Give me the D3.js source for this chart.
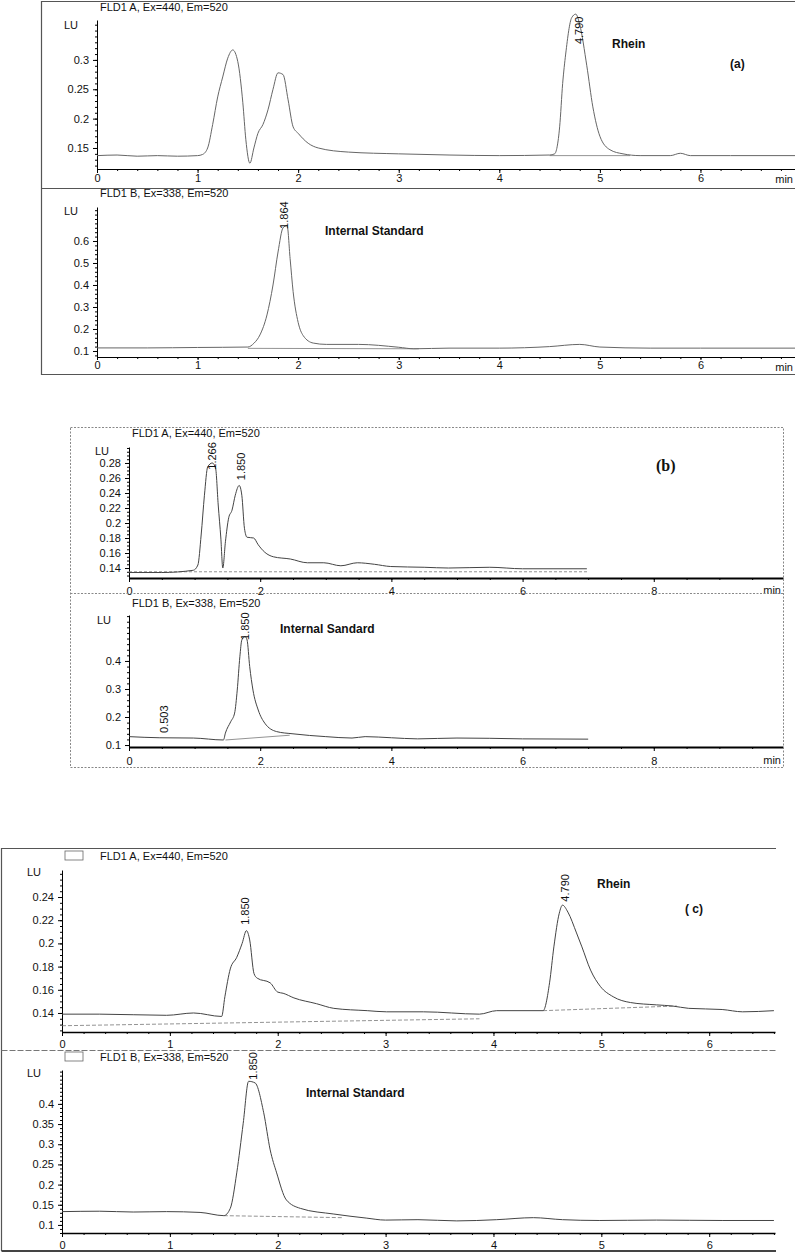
<!DOCTYPE html>
<html lang="en">
<head>
<meta charset="UTF-8">
<title>Chromatograms</title>
<script src="https://cdn.jsdelivr.net/npm/d3@7"></script>
<style>
  body { margin: 0; background: #fff; }
  svg text { font-family: "Liberation Sans", Arial, sans-serif; fill: #111; }
</style>
</head>
<body>
<script>
// ---- traces: [time (min), signal (LU)] ----
const traceA1 = [[0,0.137],[0.2,0.138],[0.4,0.136],[0.6,0.137],[0.8,0.136],[1.0,0.137],[1.05,0.139],[1.1,0.15],[1.15,0.19],[1.2,0.237],[1.25,0.271],[1.3,0.303],[1.35,0.317],[1.4,0.297],[1.45,0.227],[1.48,0.164],[1.52,0.124],[1.56,0.15],[1.6,0.175],[1.65,0.19],[1.7,0.215],[1.75,0.25],[1.8,0.278],[1.85,0.275],[1.9,0.232],[1.95,0.186],[2.0,0.175],[2.1,0.158],[2.2,0.15],[2.5,0.143],[3.0,0.14],[3.5,0.138],[4.0,0.137],[4.5,0.138],[4.55,0.14],[4.6,0.186],[4.63,0.26],[4.66,0.31],[4.72,0.372],[4.76,0.378],[4.8,0.36],[4.87,0.29],[4.93,0.22],[5.0,0.17],[5.1,0.147],[5.23,0.14],[5.4,0.137],[5.7,0.137],[5.8,0.141],[5.9,0.137],[6.3,0.137],[6.94,0.137]];
const traceA2 = [[0,0.114],[0.5,0.114],[1.0,0.116],[1.5,0.118],[1.56,0.135],[1.62,0.173],[1.69,0.264],[1.75,0.4],[1.8,0.55],[1.85,0.66],[1.89,0.67],[1.92,0.52],[1.95,0.37],[2.0,0.23],[2.05,0.17],[2.15,0.136],[2.28,0.13],[2.6,0.13],[3.0,0.117],[3.15,0.11],[3.5,0.113],[4.0,0.113],[4.5,0.12],[4.8,0.13],[5.0,0.118],[5.5,0.113],[6.0,0.113],[6.94,0.113]];
const traceB1 = [[0,0.134],[0.5,0.134],[0.98,0.137],[1.05,0.144],[1.1,0.184],[1.15,0.237],[1.2,0.275],[1.27,0.28],[1.32,0.273],[1.36,0.224],[1.4,0.18],[1.43,0.14],[1.47,0.175],[1.52,0.207],[1.57,0.217],[1.62,0.237],[1.68,0.25],[1.72,0.237],[1.76,0.193],[1.8,0.181],[1.9,0.18],[1.97,0.171],[2.07,0.161],[2.2,0.155],[2.46,0.152],[2.72,0.147],[2.97,0.147],[3.23,0.143],[3.48,0.147],[3.74,0.145],[3.99,0.142],[4.5,0.141],[4.87,0.14],[5.5,0.141],[6.0,0.139],[6.98,0.139]];
const traceB2 = [[0,0.13],[0.46,0.126],[0.98,0.125],[1.44,0.118],[1.47,0.143],[1.55,0.183],[1.61,0.214],[1.65,0.296],[1.69,0.415],[1.72,0.475],[1.77,0.487],[1.8,0.475],[1.84,0.38],[1.89,0.296],[1.97,0.225],[2.07,0.178],[2.25,0.148],[2.5,0.14],[3.0,0.13],[3.4,0.125],[3.6,0.13],[4.0,0.126],[4.4,0.122],[5.0,0.125],[5.5,0.124],[6.0,0.122],[7.0,0.121]];
const traceC1 = [[0,0.139],[0.35,0.139],[0.97,0.138],[1.22,0.14],[1.48,0.137],[1.51,0.154],[1.56,0.178],[1.62,0.188],[1.67,0.2],[1.71,0.211],[1.74,0.203],[1.78,0.174],[1.81,0.17],[1.93,0.166],[2.0,0.158],[2.05,0.157],[2.15,0.153],[2.36,0.148],[2.52,0.144],[2.83,0.142],[3.01,0.141],[3.35,0.141],[3.87,0.139],[4.03,0.142],[4.46,0.142],[4.52,0.166],[4.56,0.197],[4.61,0.226],[4.64,0.233],[4.69,0.227],[4.77,0.209],[4.82,0.197],[4.9,0.177],[4.99,0.163],[5.11,0.154],[5.27,0.149],[5.51,0.147],[5.66,0.146],[5.81,0.144],[6.12,0.143],[6.31,0.141],[6.6,0.142]];
const traceC2 = [[0,0.133],[0.35,0.134],[0.66,0.132],[0.97,0.133],[1.28,0.131],[1.5,0.123],[1.56,0.141],[1.62,0.229],[1.68,0.352],[1.73,0.456],[1.79,0.452],[1.87,0.378],[1.93,0.286],[1.99,0.229],[2.08,0.162],[2.21,0.141],[2.52,0.127],[2.82,0.117],[3.0,0.112],[3.3,0.113],[3.66,0.11],[4.03,0.113],[4.37,0.118],[4.64,0.113],[4.98,0.111],[5.51,0.112],[6.12,0.111],[6.6,0.111]];

// ---- integration baselines ----
const baseA1 = [[4.5,0.137],[5.3,0.137]];
const baseA2 = [[1.5,0.112],[3.2,0.11]];
const baseB1 = [[0,0.135],[7.0,0.135]];
const baseB2 = [[1.47,0.118],[2.45,0.135]];
const baseC1a = [[0,0.129],[3.87,0.135]];
const baseC1b = [[4.46,0.142],[5.7,0.146]];
const baseC2 = [[1.5,0.123],[2.6,0.118]];

// ---- peak labels: [text, time, signal at label start] ----
const peaksA1 = [["4.790",4.79,0.327]];
const peaksA2 = [["1.864",1.864,0.655]];
const peaksB1 = [["1.266",1.27,0.271],["1.850",1.70,0.257]];
const peaksB2 = [["1.850",1.77,0.475],["0.503",0.53,0.143]];
const peaksC1 = [["1.850",1.70,0.216],["4.790",4.66,0.236]];
const peaksC2 = [["1.850",1.77,0.46]];

// ---- axis ticks ----
const yTicksA1 = [0.15,0.2,0.25,0.3];
const yTicksA2 = [0.1,0.2,0.3,0.4,0.5,0.6];
const yTicksB1 = [0.14,0.16,0.18,0.2,0.22,0.24,0.26,0.28];
const yTicksB2 = [0.1,0.2,0.3,0.4];
const yTicksC1 = [0.14,0.16,0.18,0.2,0.22,0.24];
const yTicksC2 = [0.1,0.15,0.2,0.25,0.3,0.35,0.4];
const xTicksA = [0,1,2,3,4,5,6];
const xTicksB = [0,2,4,6,8];
const xTicksC = [0,1,2,3,4,5,6];

const W = 795, H = 1252;
const svg = d3.select("body").append("svg").attr("width", W).attr("height", H);

function drawPanel(p) {
  const x = d3.scaleLinear().domain([0, p.tMax]).range([p.x0, p.x1]);
  const y = d3.scaleLinear().domain([p.vBot, p.vTop]).range([p.yBot, p.yTop]);
  const g = svg.append("g");

  // minor x ticks
  g.append("g").attr("transform", `translate(0,${p.yBot})`)
    .call(d3.axisBottom(x).tickValues(d3.range(0, p.tMax, p.xMinor)).tickSize(2).tickSizeOuter(0).tickFormat(""))
    .call(a => a.select(".domain").remove());
  // major x
  const xa = g.append("g").attr("transform", `translate(0,${p.yBot})`)
    .call(d3.axisBottom(x).tickValues(p.xTicks).tickSize(p.xTickLen).tickPadding(p.xPad).tickSizeOuter(0).tickFormat(d => String(d)));
  xa.select(".domain").attr("stroke-width", p.xAxisW);
  xa.selectAll("text").style("font-size", "11px");

  // minor y ticks
  g.append("g").attr("transform", `translate(${p.x0},0)`)
    .call(d3.axisLeft(y).tickValues(d3.range(Math.ceil(p.vBot / p.yMinor) * p.yMinor, p.vTop, p.yMinor)).tickSize(2).tickFormat(""))
    .call(a => a.select(".domain").remove());
  const ya = g.append("g").attr("transform", `translate(${p.x0},0)`)
    .call(d3.axisLeft(y).tickValues(p.yTicks).tickSize(4).tickPadding(4).tickSizeOuter(0).tickFormat(d => String(+d.toFixed(3))));
  ya.selectAll("text").style("font-size", "11px");

  const line = d3.line().x(d => x(d[0])).y(d => y(d[1]));
  p.bases.forEach(b => {
    g.append("path").datum(b).attr("d", line).attr("fill", "none")
      .attr("stroke", "#777").attr("stroke-width", 0.8).attr("stroke-dasharray", p.baseDash || null);
  });
  g.append("path").datum(p.trace)
    .attr("d", line.curve(d3.curveMonotoneX))
    .attr("fill", "none").attr("stroke", p.traceColor || "#444").attr("stroke-width", 1);

  p.peaks.forEach(([txt, t, v]) => {
    g.append("text")
      .attr("transform", `translate(${x(t) + 4},${y(v)}) rotate(-90)`)
      .style("font-size", "11px").text(txt);
  });

  g.append("text").attr("x", p.titleX).attr("y", p.titleY).style("font-size", "11px").text(p.title);
  g.append("text").attr("x", p.luX).attr("y", p.luY).style("font-size", "11px").text("LU");
  if (p.minY) g.append("text").attr("x", p.x1 - 2).attr("y", p.minY).attr("text-anchor", "end").style("font-size", "11px").text("min");
  if (p.legendBox) g.append("rect").attr("x", 65).attr("y", p.titleY - 9).attr("width", 18).attr("height", 9)
      .attr("fill", "none").attr("stroke", "#666").attr("stroke-width", 0.8);
  p.notes.forEach(n => {
    g.append("text").attr("x", n.x).attr("y", n.y)
      .style("font-size", n.size || "12px").style("font-weight", "bold")
      .style("font-family", n.serif ? "'Liberation Serif', 'Times New Roman', serif" : null)
      .text(n.text);
  });
}

const panels = [
  { trace: traceA1, traceColor: "#666", bases: [baseA1], peaks: peaksA1, x0: 97, x1: 795, tMax: 6.94, yTop: 20, yBot: 169, vTop: 0.368, vBot: 0.1142,
    yTicks: yTicksA1, yMinor: 0.01, xTicks: xTicksA, xMinor: 0.2, xTickLen: 4, xPad: 1, xAxisW: 1,
    title: "FLD1 A, Ex=440, Em=520", titleX: 100, titleY: 11, luX: 64, luY: 29, minY: 183,
    notes: [{ text: "Rhein", x: 612, y: 48 }, { text: "(a)", x: 730, y: 68 }] },
  { trace: traceA2, traceColor: "#666", bases: [baseA2], peaks: peaksA2, x0: 97, x1: 795, tMax: 6.94, yTop: 207, yBot: 357, vTop: 0.7545, vBot: 0.0727,
    yTicks: yTicksA2, yMinor: 0.02, xTicks: xTicksA, xMinor: 0.2, xTickLen: 3, xPad: 1, xAxisW: 1,
    title: "FLD1 B, Ex=338, Em=520", titleX: 100, titleY: 197, luX: 64, luY: 215, minY: 371,
    notes: [{ text: "Internal Standard", x: 325, y: 235 }] },
  { trace: traceB1, bases: [baseB1], baseDash: "3,2", peaks: peaksB1, x0: 129, x1: 783, tMax: 9.97, yTop: 447, yBot: 578, vTop: 0.3013, vBot: 0.1267,
    yTicks: yTicksB1, yMinor: 0.005, xTicks: xTicksB, xMinor: 0.5, xTickLen: 4, xPad: 5, xAxisW: 2,
    title: "FLD1 A, Ex=440, Em=520", titleX: 132, titleY: 437, luX: 95, luY: 455, minY: 594,
    notes: [{ text: "(b)", x: 656, y: 471, size: "16px", serif: true }] },
  { trace: traceB2, bases: [baseB2], peaks: peaksB2, x0: 129, x1: 783, tMax: 9.97, yTop: 615, yBot: 747, vTop: 0.564, vBot: 0.093,
    yTicks: yTicksB2, yMinor: 0.02, xTicks: xTicksB, xMinor: 0.5, xTickLen: 4, xPad: 6, xAxisW: 2,
    title: "FLD1 B, Ex=338, Em=520", titleX: 132, titleY: 607, luX: 97, luY: 624, minY: 764,
    notes: [{ text: "Internal Sandard", x: 280, y: 633 }] },
  { trace: traceC1, bases: [baseC1a, baseC1b], baseDash: "4,2", peaks: peaksC1, x0: 62, x1: 775, tMax: 6.61, yTop: 870, yBot: 1032, vTop: 0.2633, vBot: 0.1236,
    yTicks: yTicksC1, yMinor: 0.005, xTicks: xTicksC, xMinor: 0.2, xTickLen: 4, xPad: 4, xAxisW: 1.5,
    title: "FLD1 A, Ex=440, Em=520", titleX: 100, titleY: 860, luX: 27, luY: 876, legendBox: true,
    notes: [{ text: "Rhein", x: 597, y: 888 }, { text: "( c)", x: 685, y: 913 }] },
  { trace: traceC2, bases: [baseC2], baseDash: "4,2", peaks: peaksC2, x0: 62, x1: 775, tMax: 6.61, yTop: 1070, yBot: 1233, vTop: 0.484, vBot: 0.080,
    yTicks: yTicksC2, yMinor: 0.01, xTicks: xTicksC, xMinor: 0.2, xTickLen: 4, xPad: 4, xAxisW: 1.5,
    title: "FLD1 B, Ex=338, Em=520", titleX: 100, titleY: 1061, luX: 27, luY: 1077, legendBox: true,
    notes: [{ text: "Internal Standard", x: 306, y: 1097 }] }
];

panels.forEach(drawPanel);

// ---- frames ----
const frame = svg.append("g").attr("fill", "none");
// (a)
frame.append("path").attr("d", "M795,1.5H41.5V374.5H795").attr("stroke", "#555").attr("stroke-width", 1.2);
frame.append("path").attr("d", "M41.5,188.5H795").attr("stroke", "#555").attr("stroke-width", 1.2);
// (b)
frame.append("path").attr("d", "M70.5,427.5H783.5V767.5H70.5Z").attr("stroke", "#888").attr("stroke-dasharray", "2,1.5");
frame.append("path").attr("d", "M70.5,593.5H783.5").attr("stroke", "#888").attr("stroke-dasharray", "2,1.5");
// (c)
frame.append("path").attr("d", "M776,848.5H1.5V1251").attr("stroke", "#555").attr("stroke-width", 1.2);
frame.append("path").attr("d", "M1.5,1050.5H776").attr("stroke", "#777").attr("stroke-dasharray", "6,2");
frame.append("path").attr("d", "M1.5,1251H776").attr("stroke", "#444").attr("stroke-width", 2);
</script>
</body>
</html>
